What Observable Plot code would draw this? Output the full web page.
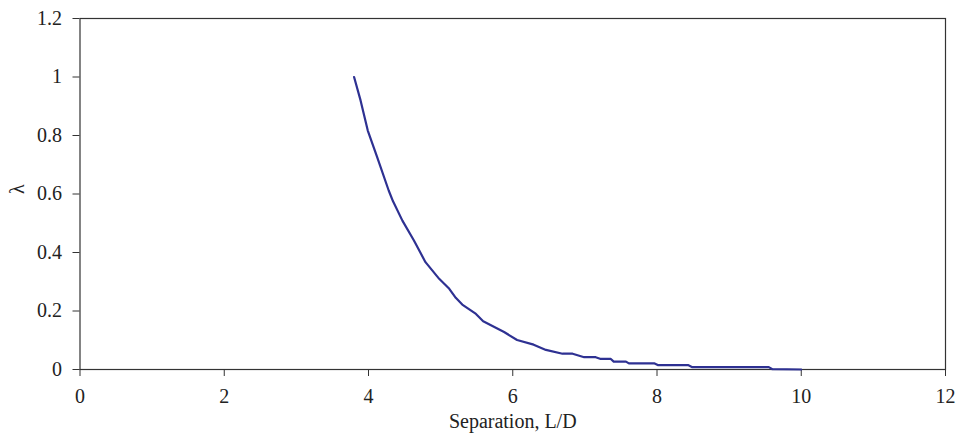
<!DOCTYPE html>
<html>
<head>
<meta charset="utf-8">
<script src="https://cdn.jsdelivr.net/npm/d3@7"></script>
<script src="https://cdn.jsdelivr.net/npm/@observablehq/plot@0.6"></script>
<style>
  html, body { margin: 0; padding: 0; background: #fff; }
</style>
</head>
<body>
<div id="chart"></div>
<script>
const separation = [3.80, 3.89, 3.99, 4.12, 4.28, 4.34, 4.47, 4.63, 4.79, 4.98, 5.12, 5.21, 5.30, 5.49, 5.59, 5.88, 6.06, 6.29, 6.46, 6.69, 6.83, 6.99, 7.15, 7.22, 7.36, 7.40, 7.57, 7.61, 7.96, 8.01, 8.43, 8.49, 9.55, 9.60, 10.0];
const lambda = [1.00, 0.92, 0.817, 0.726, 0.612, 0.575, 0.509, 0.441, 0.367, 0.310, 0.276, 0.245, 0.222, 0.190, 0.165, 0.128, 0.101, 0.085, 0.067, 0.054, 0.054, 0.042, 0.042, 0.036, 0.036, 0.027, 0.027, 0.021, 0.021, 0.015, 0.015, 0.008, 0.008, 0.001, 0.0];
const xTicks = [0, 2, 4, 6, 8, 10, 12];
const yTicks = [0, 0.2, 0.4, 0.6, 0.8, 1, 1.2];
const xLabel = "Separation, L/D";
const yLabel = "λ";

const data = separation.map((x, i) => ({x, y: lambda[i]}));
const axisColor = "#333";

const chart = Plot.plot({
  width: 959,
  height: 433,
  marginLeft: 79.5,
  marginRight: 14,
  marginTop: 18,
  marginBottom: 64,
  style: {fontFamily: "'Liberation Serif', 'Times New Roman', serif", fontSize: "20px", color: "#222", background: "#fff"},
  x: {domain: [0, 12]},
  y: {domain: [0, 1.2]},
  marks: [
    Plot.frame({stroke: axisColor, strokeWidth: 1.2}),
    Plot.axisX(xTicks, {tickSize: 7, tickPadding: 12, stroke: axisColor, fill: "#222", fontSize: 20, label: null, tickFormat: d => String(d)}),
    Plot.axisY(yTicks, {tickSize: 7, tickPadding: 11, stroke: axisColor, fill: "#222", fontSize: 20, label: null, tickFormat: d => String(d)}),
    Plot.line(data, {x: "x", y: "y", stroke: "#2e3192", strokeWidth: 2.2}),
    Plot.text([xLabel], {frameAnchor: "bottom", dy: 58, fontSize: 20, fill: "#222"}),
    Plot.text([yLabel], {frameAnchor: "left", dx: -62, rotate: -90, fontSize: 20, fill: "#222"})
  ]
});
document.getElementById("chart").appendChild(chart);
</script>
</body>
</html>
